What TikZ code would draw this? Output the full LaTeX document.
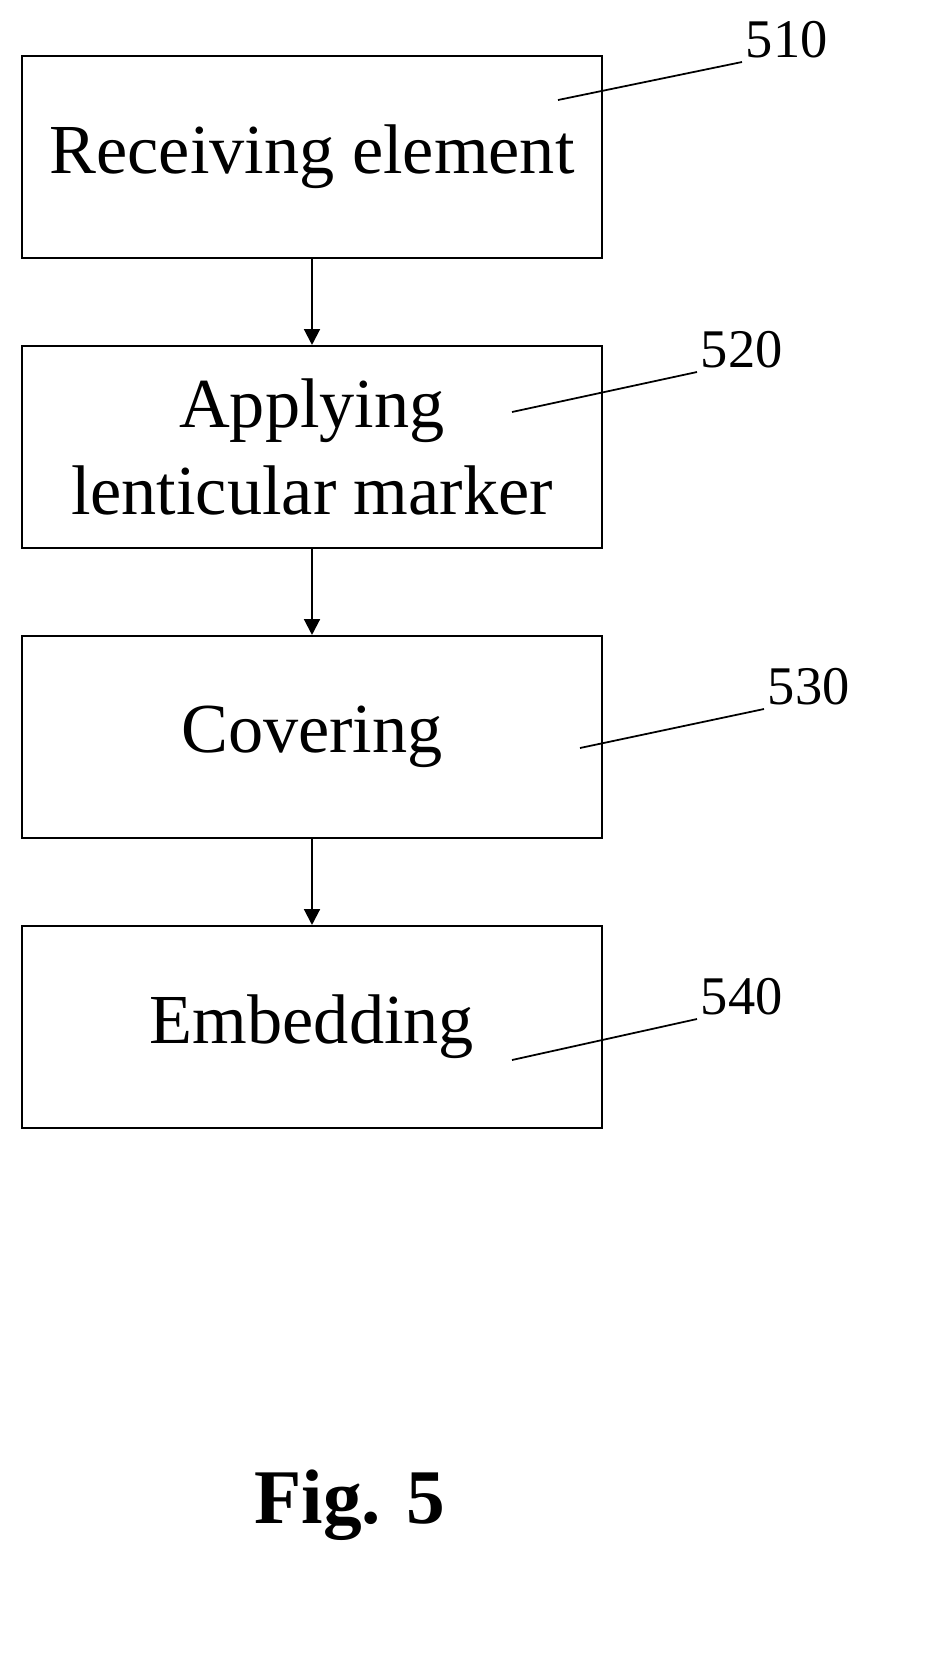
\documentclass[tikz,border=0pt]{standalone}
\usepackage{fontspec}
\setmainfont{Liberation Serif}
\usetikzlibrary{arrows.meta,positioning}

\tikzset{
    stage/.style={draw, line width=1.2pt, minimum width=11.6cm, minimum height=4.04cm,
        align=center, font=\fontsize{40}{50}\selectfont},
    flow/.style={-{Triangle[length=9pt,width=9pt]}, line width=1.2pt},
    refnum/.style={anchor=south west, inner sep=2pt, font=\fontsize{31}{36}\selectfont},
    leader/.style={line width=1pt}
}

\begin{document}
\begin{tikzpicture}[x=0.02cm,y=-0.02cm]
    \useasboundingbox (0,0) rectangle (939,1658);

    % Process boxes
    \node[stage] (recv) at (312,157) {Receiving element};
    \node[stage] (apply) at (312,447) {Applying\\lenticular marker};
    \node[stage] (cover) at (312,737) {Covering};
    \node[stage] (embed) at (312,1027) {Embedding};

    % Flow arrows
    \draw[flow] (recv) -- (apply);
    \draw[flow] (apply) -- (cover);
    \draw[flow] (cover) -- (embed);

    % Reference numerals
    \node[refnum] (n510) at (742,62) {510};
    \node[refnum] (n520) at (697,372) {520};
    \node[refnum] (n530) at (764,709) {530};
    \node[refnum] (n540) at (697,1019) {540};
    \coordinate (p510) at (558,100);
    \coordinate (p520) at (512,412);
    \coordinate (p530) at (580,748);
    \coordinate (p540) at (512,1060);
    \draw[leader] (p510) -- (n510.south west);
    \draw[leader] (p520) -- (n520.south west);
    \draw[leader] (p530) -- (n530.south west);
    \draw[leader] (p540) -- (n540.south west);

    % Caption
    \node[font=\bfseries\fontsize{44}{52}\selectfont] (cap) at (350,1505) {Fig. 5};
\end{tikzpicture}
\end{document}
